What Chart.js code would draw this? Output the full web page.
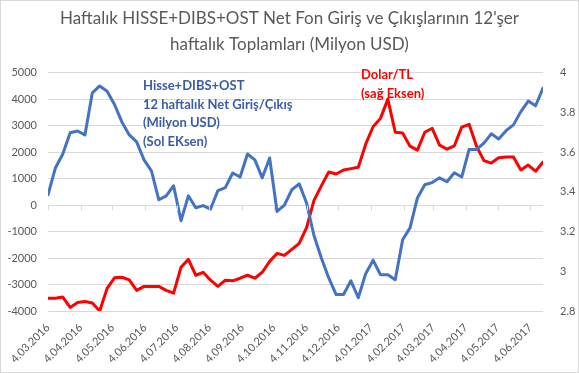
<!DOCTYPE html>
<html>
<head>
<meta charset="utf-8">
<script src="https://cdn.jsdelivr.net/npm/chart.js@4.4.1/dist/chart.umd.min.js"></script>
<style>
  html, body { margin: 0; padding: 0; background: #fff; }
  #wrap { width: 579px; height: 373px; position: relative; }
</style>
</head>
<body>
<div id="wrap"><canvas id="fonChart" width="579" height="373"></canvas></div>
<script>
// weekly dates (Fridays)
var weeks = [
  "4.03.2016","11.03.2016","18.03.2016","25.03.2016","1.04.2016","8.04.2016","15.04.2016","22.04.2016","29.04.2016",
  "6.05.2016","13.05.2016","20.05.2016","27.05.2016","3.06.2016","10.06.2016","17.06.2016","24.06.2016",
  "1.07.2016","8.07.2016","15.07.2016","22.07.2016","29.07.2016","5.08.2016","12.08.2016","19.08.2016","26.08.2016",
  "2.09.2016","9.09.2016","16.09.2016","23.09.2016","30.09.2016","7.10.2016","14.10.2016","21.10.2016","28.10.2016",
  "4.11.2016","11.11.2016","18.11.2016","25.11.2016","2.12.2016","9.12.2016","16.12.2016","23.12.2016","30.12.2016",
  "6.01.2017","13.01.2017","20.01.2017","27.01.2017","3.02.2017","10.02.2017","17.02.2017","24.02.2017",
  "3.03.2017","10.03.2017","17.03.2017","24.03.2017","31.03.2017","7.04.2017","14.04.2017","21.04.2017","28.04.2017",
  "5.05.2017","12.05.2017","19.05.2017","26.05.2017","2.06.2017","9.06.2017","16.06.2017"
];

// Hisse+DIBS+OST 12 haftalık net giriş/çıkış (milyon USD) - sol eksen
var netFlow = [
  390, 1400, 1930, 2730, 2800, 2650, 4240, 4500, 4300, 3800, 3140, 2650,
  2390, 1710, 1290, 200, 350, 730, -590, 350, -100, -20, -150,
  550, 660, 1210, 1060, 1930, 1710, 1030, 1780, -240, 0, 580,
  800, 80, -1150, -2000, -2750, -3380, -3380, -2860, -3500, -2590, -2080,
  -2630, -2630, -2820, -1310, -860, 270, 770, 850, 1030, 880, 1220,
  1060, 2100, 2100, 2340, 2690, 2500, 2810, 3030, 3530, 3930, 3750, 4420
];

// Dolar/TL - sağ eksen
var usdTry = [
  2.864, 2.864, 2.870, 2.818, 2.843, 2.848, 2.840, 2.800, 2.914, 2.967, 2.970, 2.957,
  2.904, 2.924, 2.924, 2.924, 2.904, 2.890, 3.020, 3.060, 2.980, 2.995, 2.955,
  2.924, 2.955, 2.952, 2.965, 2.980, 2.965, 2.995, 3.050, 3.090, 3.080, 3.110,
  3.140, 3.220, 3.357, 3.430, 3.500, 3.490, 3.510, 3.517, 3.524, 3.640, 3.728,
  3.770, 3.867, 3.700, 3.696, 3.630, 3.610, 3.700, 3.720, 3.635, 3.615, 3.632,
  3.726, 3.740, 3.630, 3.557, 3.545, 3.572, 3.575, 3.575, 3.510, 3.535, 3.504, 3.550
];

var monthTicks = [
  "4.03.2016","4.04.2016","4.05.2016","4.06.2016","4.07.2016","4.08.2016","4.09.2016","4.10.2016",
  "4.11.2016","4.12.2016","4.01.2017","4.02.2017","4.03.2017","4.04.2017","4.05.2017","4.06.2017"
];
var leftTicks = [-4000, -3000, -2000, -1000, 0, 1000, 2000, 3000, 4000, 5000];
var rightTicks = [2.8, 3, 3.2, 3.4, 3.6, 3.8, 4];

function toDay(s) {
  var p = s.split(".");
  var t = Date.UTC(+p[2], +p[1] - 1, +p[0]);
  var p0 = weeks[0].split(".");
  return Math.round((t - Date.UTC(+p0[2], +p0[1] - 1, +p0[0])) / 86400000);
}

var FONT = "Lato, 'Liberation Sans', sans-serif";
var GREY = "#595959";

var extras = {
  id: 'extras',
  beforeDraw: function (chart) {
    var c = chart.ctx;
    c.save();
    c.strokeStyle = '#d9d9d9';
    c.lineWidth = 1;
    c.strokeRect(0.5, 0.5, chart.width - 1, chart.height - 1);
    c.restore();
  },
  afterDatasetsDraw: function (chart) {
    var c = chart.ctx;
    var x = chart.scales.x, y = chart.scales.y;
    var y0 = Math.round(y.getPixelForValue(0)) + 0.5;
    c.save();
    // category axis at zero with month tick marks
    c.strokeStyle = '#d9d9d9';
    c.lineWidth = 1;
    c.beginPath();
    monthTicks.forEach(function (t) {
      var px = Math.round(x.getPixelForValue(toDay(t))) + 0.5;
      c.moveTo(px, y0);
      c.lineTo(px, y0 + 5);
    });
    c.stroke();
    // annotations
    c.font = "bold 13px " + FONT;
    c.textBaseline = 'middle';
    c.textAlign = 'left';
    c.fillStyle = '#3a5ca8';
    ["Hisse+DIBS+OST", "12 haftalık Net Giriş/Çıkış", "(Milyon USD)", "(Sol EKsen)"].forEach(function (s, i) {
      c.fillText(s, 143, 86 + i * 18.5);
    });
    c.fillStyle = '#ff0000';
    ["Dolar/TL", "(sağ Eksen)"].forEach(function (s, i) {
      c.fillText(s, 361, 75 + i * 18.5);
    });
    c.restore();
  }
};

var ctx = document.getElementById("fonChart").getContext('2d');
var chart = new Chart(ctx, {
  type: 'line',
  data: {
    datasets: [{
      label: 'Hisse+DIBS+OST',
      data: weeks.map(function (w, i) { return { x: toDay(w), y: netFlow[i] }; }),
      borderColor: '#4472c4',
      borderWidth: 3,
      borderJoinStyle: 'round',
      borderCapStyle: 'round',
      pointRadius: 0,
      tension: 0,
      yAxisID: 'y'
    }, {
      label: 'Dolar/TL',
      data: weeks.map(function (w, i) { return { x: toDay(w), y: usdTry[i] }; }),
      borderColor: '#ff0000',
      borderWidth: 3,
      borderJoinStyle: 'round',
      borderCapStyle: 'round',
      pointRadius: 0,
      tension: 0,
      yAxisID: 'y1'
    }]
  },
  options: {
    responsive: false,
    animation: false,
    layout: { padding: { top: 0, left: 0, right: 0, bottom: 0 } },
    plugins: {
      legend: { display: false },
      tooltip: { enabled: false },
      title: {
        display: true,
        text: ["Haftalık HISSE+DIBS+OST Net Fon Giriş ve Çıkışlarının 12'şer", "haftalık Toplamları (Milyon USD)"],
        color: GREY,
        font: { family: FONT, size: 17, weight: 'normal', lineHeight: 1.55 },
        padding: { top: 5, bottom: 15 }
      }
    },
    scales: {
      x: {
        type: 'linear',
        min: 0,
        max: toDay(weeks[weeks.length - 1]),
        grid: { display: false },
        border: { display: false },
        afterBuildTicks: function (scale) {
          scale.ticks = monthTicks.map(function (t) { return { value: toDay(t) }; });
        },
        afterFit: function (scale) { scale.height = 62; },
        ticks: {
          autoSkip: false,
          maxRotation: 45,
          minRotation: 45,
          padding: 2,
          color: GREY,
          font: { family: FONT, size: 11 },
          callback: function (v) {
            for (var i = 0; i < monthTicks.length; i++) {
              if (toDay(monthTicks[i]) === v) return monthTicks[i];
            }
            return '';
          }
        }
      },
      y: {
        position: 'left',
        min: -4000,
        max: 5000,
        afterBuildTicks: function (scale) {
          scale.ticks = leftTicks.map(function (v) { return { value: v }; });
        },
        afterFit: function (scale) { scale.width = 48; },
        grid: { color: '#d9d9d9', drawTicks: false },
        border: { display: false },
        ticks: {
          color: GREY,
          padding: 11,
          font: { family: FONT, size: 11 },
          callback: function (v) { return String(v); }
        }
      },
      y1: {
        position: 'right',
        min: 2.8,
        max: 4,
        afterBuildTicks: function (scale) {
          scale.ticks = rightTicks.map(function (v) { return { value: v }; });
        },
        afterFit: function (scale) { scale.width = 36; },
        grid: { display: false, drawOnChartArea: false },
        border: { display: false },
        ticks: {
          color: GREY,
          padding: 9,
          font: { family: FONT, size: 11 },
          callback: function (v) { return String(Number(v.toFixed(1))); }
        }
      }
    }
  },
  plugins: [extras]
});
</script>
</body>
</html>
